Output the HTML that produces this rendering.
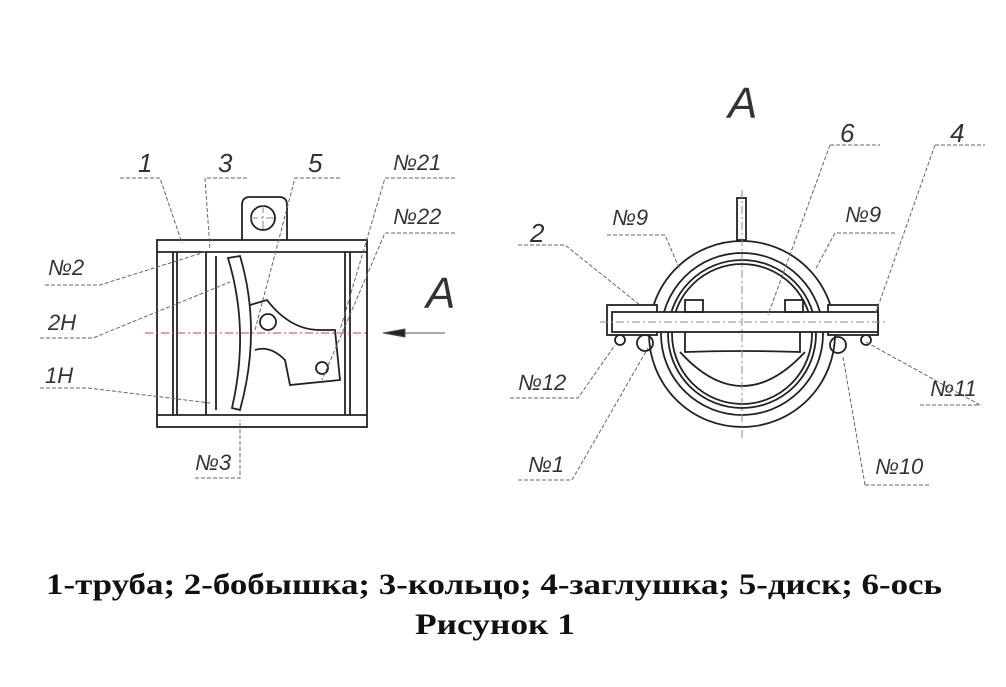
<!DOCTYPE html>
<html><head><meta charset="utf-8"><style>
html,body{margin:0;padding:0;background:#fff;}
svg{display:block}
.l{font-family:"Liberation Sans",sans-serif;font-style:italic;font-size:26px;fill:#333;}
.c{font-family:"Liberation Serif",serif;font-weight:bold;font-size:30px;fill:#111;}
</style></head><body>
<svg width="1006" height="687" viewBox="0 0 1006 687" xmlns="http://www.w3.org/2000/svg">
<g stroke="#222" stroke-width="1.8" fill="none">
<rect x="157" y="240" width="210" height="187"/>
<line x1="157" y1="252" x2="367" y2="252"/>
<line x1="157" y1="415" x2="367" y2="415"/>
<line x1="173" y1="252" x2="173" y2="415"/><line x1="177" y1="252" x2="177" y2="415"/>
<line x1="345" y1="252" x2="345" y2="415"/><line x1="350" y1="252" x2="350" y2="415"/>
<line x1="206" y1="252" x2="206" y2="415"/><line x1="216" y1="256" x2="216" y2="410"/>
<path d="M242 240 V205 Q242 197 250 197 H279 Q287 197 287 205 V240"/>
<circle cx="263" cy="218" r="12"/>
<path d="M228 258 Q250 330 232 408 L240 410 Q262 330 240 256 Z"/>
<path d="M250 305 L267 300 Q290 330 320 330 L335 330 L340 380 L290 385 L285 360 Q270 345 255 350"/>
<circle cx="268" cy="322" r="8"/><circle cx="322" cy="368" r="6"/>
<circle cx="742" cy="334" r="93"/>
<circle cx="742" cy="334" r="81"/>
<circle cx="742" cy="334" r="74"/>
<circle cx="742" cy="334" r="70"/>
<rect x="607" y="305" width="50" height="30" fill="#fff"/>
<rect x="828" y="305" width="50" height="30" fill="#fff"/>
<rect x="612" y="312" width="266" height="20" fill="#fff"/>
<rect x="685" y="300" width="18" height="12"/><rect x="785" y="300" width="18" height="12"/>
<path d="M685 332 V352 Q740 350 800 352 V332"/>
<path d="M680 352 Q742 420 805 352"/>
<rect x="737" y="198" width="9" height="42" fill="#fff"/>
<circle cx="645" cy="343" r="8"/><circle cx="838" cy="345" r="8"/>
<circle cx="620" cy="340" r="5"/><circle cx="866" cy="340" r="5"/>
</g>
<g stroke="#888" stroke-width="1" fill="none" stroke-dasharray="8 3 2 3">
<line x1="145" y1="333" x2="367" y2="333" stroke="#b44"/>
<line x1="742" y1="190" x2="742" y2="440"/>
<line x1="600" y1="322" x2="885" y2="322"/>
<line x1="250" y1="218" x2="276" y2="218"/><line x1="263" y1="205" x2="263" y2="231"/>
</g>
<g stroke="#555" stroke-width="1" fill="none">
<line x1="385" y1="333" x2="445" y2="333"/>
<path d="M383 333 L405 329 L405 337 Z" fill="#222"/>
</g>
<g stroke="#666" stroke-width="1" fill="none" stroke-dasharray="4 2">
<path d="M120 178 H160 L182 243"/>
<path d="M247 178 H205 L210 250"/>
<path d="M340 178 H295 L255 330"/>
<path d="M455 178 H385 L340 330"/>
<path d="M455 233 H385 L322 380"/>
<path d="M45 285 H100 L205 252"/>
<path d="M40 338 H93 L230 282"/>
<path d="M40 388 H88 L210 403"/>
<path d="M195 478 H240 L240 420"/>
<path d="M830 145 H880 M830 145 L768 315"/>
<path d="M935 145 H985 M935 145 L875 315"/>
<path d="M518 245 H565 L640 305"/>
<path d="M607 235 H665 L680 270"/>
<path d="M895 233 H835 L815 270"/>
<path d="M510 398 H578 L615 345"/>
<path d="M518 480 H572 L648 348"/>
<path d="M920 405 H980 L866 342"/>
<path d="M865 485 H930 M865 485 L843 357"/>
</g>
<g class="l">
<text x="138" y="172">1</text><text x="218" y="172">3</text><text x="308" y="172">5</text>
<text x="393" y="170" font-size="22">№21</text><text x="393" y="224" font-size="22">№22</text>
<text x="48" y="275" font-size="22">№2</text><text x="48" y="330" font-size="22">2Н</text>
<text x="45" y="383" font-size="22">1Н</text><text x="195" y="470" font-size="22">№3</text>
<text x="426" y="308" font-size="44">A</text>
<text x="728" y="118" font-size="44">A</text>
<text x="840" y="142">6</text><text x="950" y="142">4</text><text x="530" y="242">2</text>
<text x="612" y="225" font-size="22">№9</text><text x="845" y="222" font-size="22">№9</text>
<text x="518" y="390" font-size="22">№12</text><text x="528" y="472" font-size="22">№1</text>
<text x="930" y="396" font-size="22">№11</text><text x="875" y="474" font-size="22">№10</text>
</g>
<text class="c" x="46" y="594" textLength="896" lengthAdjust="spacingAndGlyphs">1-труба; 2-бобышка; 3-кольцо; 4-заглушка; 5-диск; 6-ось</text>
<text class="c" x="415" y="634" textLength="160" lengthAdjust="spacingAndGlyphs">Рисунок 1</text>
</svg>
</body></html>
